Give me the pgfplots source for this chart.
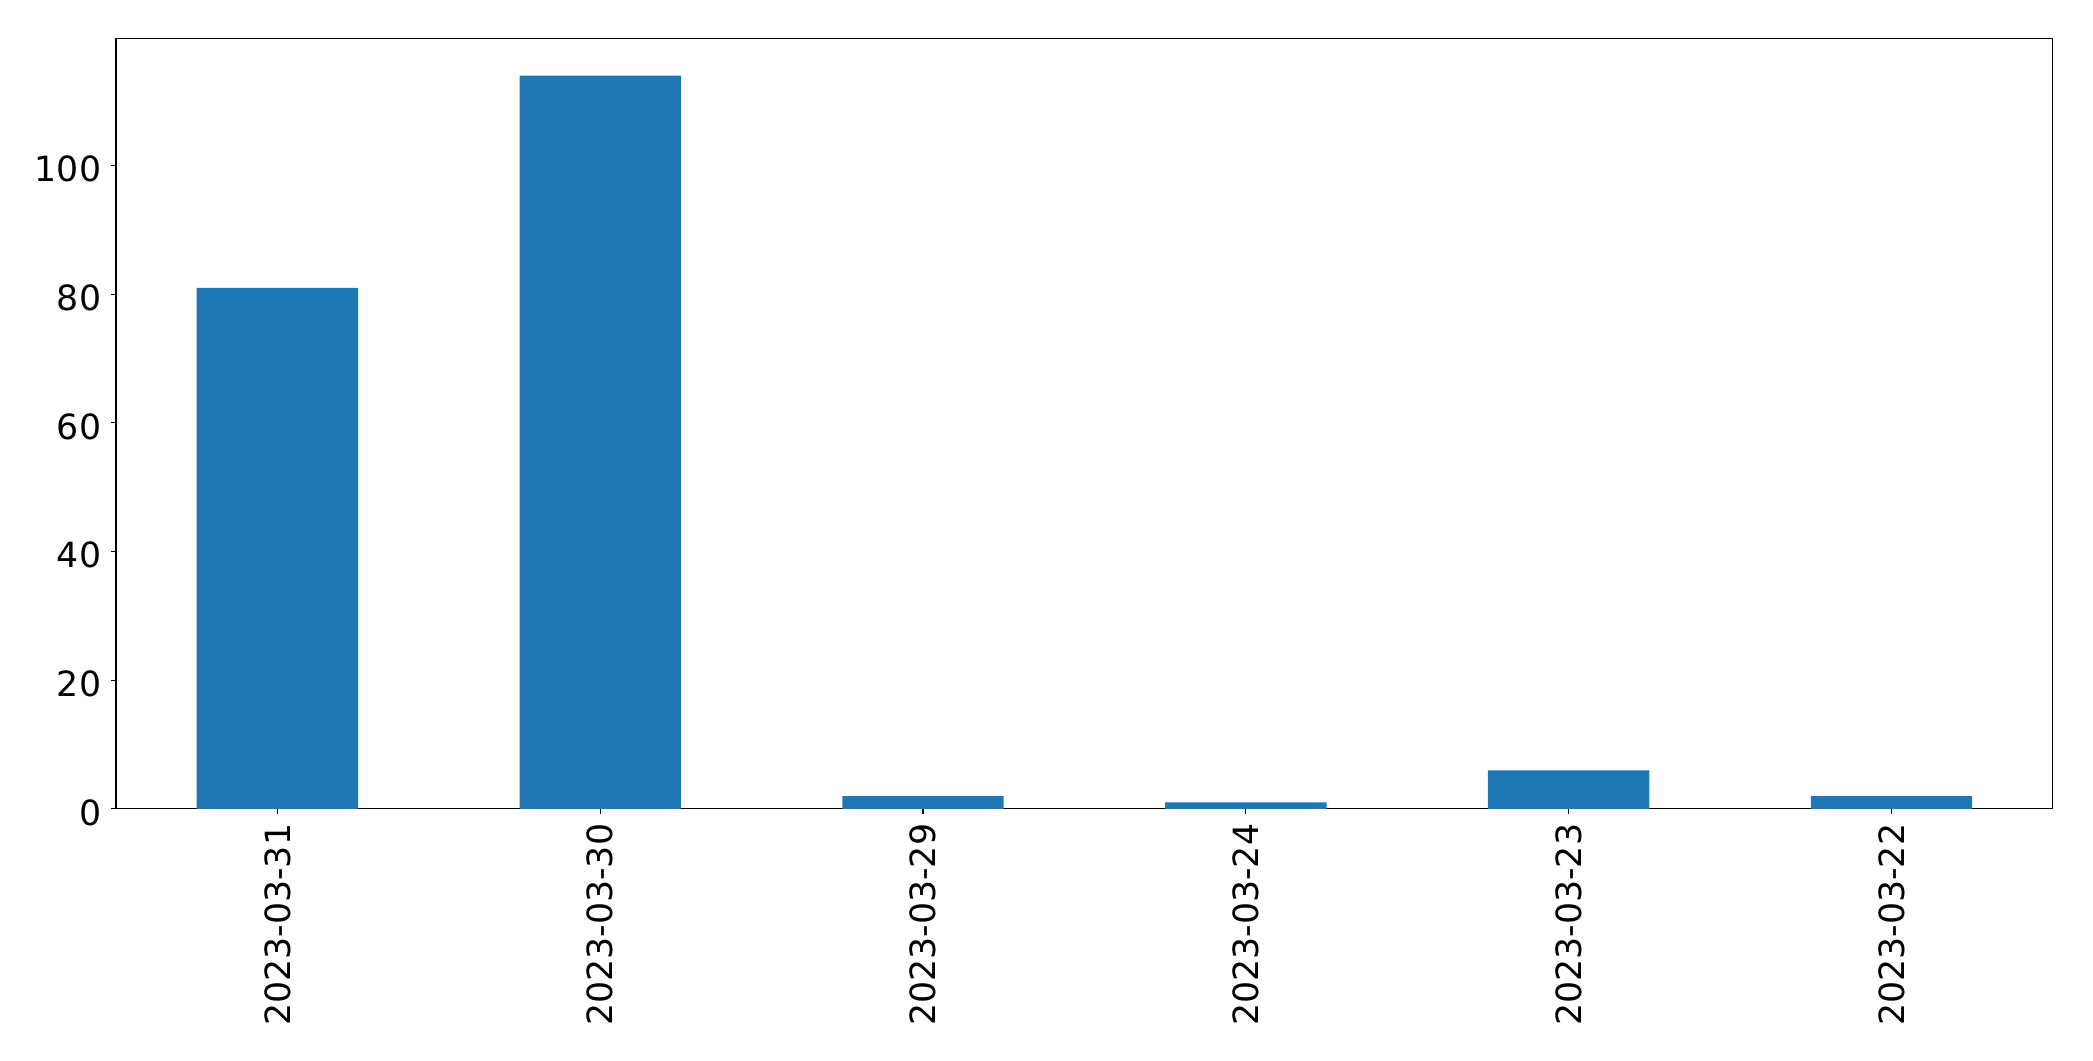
\documentclass[border=0pt]{standalone}
\usepackage{fontspec}
\setmainfont{DejaVu Sans}
\usepackage{pgfplots}
\pgfplotsset{compat=1.18}
\definecolor{barblue}{HTML}{1F77B4}
\begin{document}
\begin{tikzpicture}
\path[use as bounding box] (-83.5pt,-181.4pt) rectangle (1423.4pt,582.4pt);
\begin{axis}[
  at={(0pt,0pt)}, anchor=south west,
  scale only axis,
  width=1394.6pt, height=554.4pt,
  xmin=-0.5, xmax=5.5, ymin=0, ymax=119.7,
  xtick={0,1,2,3,4,5},
  xticklabels={2023-03-31,2023-03-30,2023-03-29,2023-03-24,2023-03-23,2023-03-22},
  ytick={0,20,40,60,80,100},
  xtick pos=bottom, ytick pos=left,
  tick align=outside,
  major tick length=3.5pt,
  every tick/.style={black, line width=0.8pt},
  axis line style={line width=0.8pt},
  /pgf/number format/assume math mode=true,
  tick label style={font=\fontsize{25}{30}\selectfont},
  x tick label style={rotate=90, anchor=east, inner sep=0pt, xshift=-7pt},
  y tick label style={inner sep=0pt, xshift=-7pt, yshift=-2.6pt},
]
\addplot[ybar, bar width=0.5, fill=barblue, draw=none] coordinates {
  (0,81) (1,114) (2,2) (3,1) (4,6) (5,2)
};
\end{axis}
\end{tikzpicture}
\end{document}
